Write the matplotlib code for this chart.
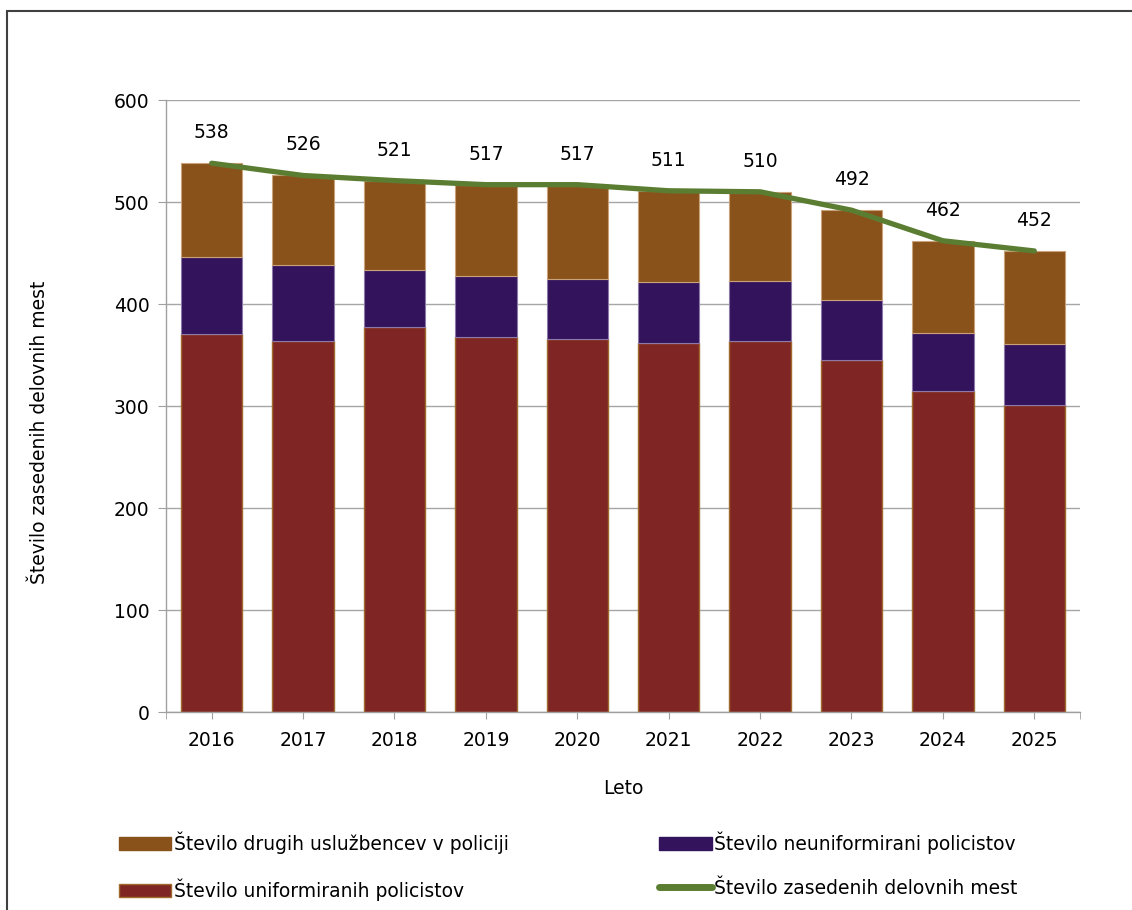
import matplotlib.pyplot as plt
from matplotlib.patches import Rectangle, Patch
from matplotlib.lines import Line2D
import numpy as np

plt.rcParams['font.family'] = ['DejaVu Sans']

# podatki
leta = ['2016', '2017', '2018', '2019', '2020', '2021', '2022', '2023', '2024', '2025']
uniformirani = [371, 364, 377, 368, 366, 362, 364, 345, 315, 301]
neuniformirani = [75, 74, 56, 59, 59, 60, 59, 59, 57, 60]
drugi = [92, 88, 88, 90, 92, 89, 87, 88, 90, 91]
zasedena = [538, 526, 521, 517, 517, 511, 510, 492, 462, 452]

c_uni = '#7F2624'
c_neuni = '#33135C'
c_drugi = '#8A521B'
c_line = '#5A7D32'

fig = plt.figure(figsize=(11.32, 9.10), dpi=100)
ax = fig.add_axes([166 / 1132, 198 / 910, 914 / 1132, 612 / 910])

x = np.arange(len(leta))
w = 0.67
ax.bar(x, uniformirani, w, color=c_uni, edgecolor='#A06A2C', linewidth=1, zorder=2)
ax.bar(x, neuniformirani, w, bottom=uniformirani, color=c_neuni,
       edgecolor='#8E78A8', linewidth=0.8, zorder=2)
spodaj = np.array(uniformirani) + np.array(neuniformirani)
ax.bar(x, drugi, w, bottom=spodaj, color=c_drugi, edgecolor='#C9A27A',
       linewidth=0.8, zorder=2)
ax.plot(x, zasedena, color=c_line, lw=3.8, solid_capstyle='round',
        solid_joinstyle='round', zorder=3)

for xi, v in zip(x, zasedena):
    ax.annotate(str(v), (xi, v), xytext=(0, 22), textcoords='offset points',
                ha='center', va='center', fontsize=13.5)

ax.set_xlim(-0.5, 9.5)
ax.set_ylim(0, 600)
ax.set_yticks(range(0, 601, 100))
ax.set_xticks(x)
ax.set_xticklabels(leta)
ax.set_xticks([-0.5, 9.5], minor=True)
ax.tick_params(axis='y', length=6, color='#A0A0A0', labelsize=13.5, pad=6)
ax.tick_params(axis='x', which='both', length=5, color='#A0A0A0', labelsize=13.5, pad=9)
ax.grid(axis='y', color='#A6A6A6', lw=1)
ax.set_axisbelow(True)
for s in ['top', 'right']:
    ax.spines[s].set_visible(False)
for s in ['left', 'bottom']:
    ax.spines[s].set_color('#A0A0A0')
    ax.spines[s].set_linewidth(1)

ax.set_ylabel('Število zasedenih delovnih mest', fontsize=13.5, va='center')
ax.yaxis.set_label_coords((40 - 166) / 914, (712 - 432) / 612)
ax.set_xlabel('Leto', fontsize=13.5, va='center')
ax.xaxis.set_label_coords(0.5, -(789 - 712) / 612)

handles = [
    Patch(facecolor=c_drugi, edgecolor=c_drugi),
    Patch(facecolor=c_uni, edgecolor='#A06A2C'),
    Patch(facecolor=c_neuni, edgecolor=c_neuni),
    Line2D([0], [0], color=c_line, lw=5, solid_capstyle='round'),
]
labels = ['Število drugih uslužbencev v policiji', 'Število uniformiranih policistov',
          'Število neuniformirani policistov', 'Število zasedenih delovnih mest']
fig.legend(handles, labels, ncol=2, loc='upper left',
           bbox_to_anchor=(102 / 1132, 1 - 815 / 910), frameon=False,
           fontsize=13.5, handlelength=2.8, handleheight=0.7, handletextpad=0.15,
           columnspacing=8.0, labelspacing=1.3)

# okvir
fig.patches.append(Rectangle((7 / 1132, -0.05), 1.1, 1 - 11 / 910 + 0.05,
                             transform=fig.transFigure, fill=False,
                             edgecolor='#404040', lw=1.5))

fig.savefig('out.png', dpi=100)
